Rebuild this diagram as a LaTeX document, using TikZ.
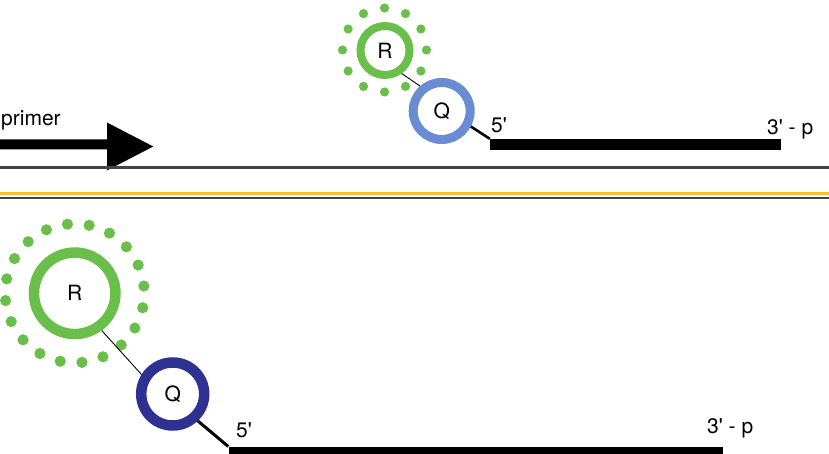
\documentclass[tikz,border=0pt]{standalone}
\usepackage{fontspec}
\newfontfamily\labelfont[Ligatures=TeXOff]{TeX Gyre Heros}
\usetikzlibrary{calc}
\definecolor{reporter}{HTML}{69BF4A}
\definecolor{quenchlight}{HTML}{6A8CD2}
\definecolor{quenchdark}{HTML}{2E3192}
\definecolor{railgrey}{HTML}{444444}
\definecolor{railyellow}{HTML}{F8C22E}
\tikzset{
  lbl/.style={font=\labelfont\fontsize{21}{25}\selectfont, inner sep=0pt},
  ring/.style={circle, draw=#1, inner sep=0pt, font=\labelfont\fontsize{21}{25}\selectfont},
  strandbox/.style={rectangle, fill=black, inner sep=0pt, draw=none},
  tether/.style={draw=black, line width=0.9pt},
  stalk/.style={draw=black, line width=2.6pt},
  rail/.style={line width=2.6pt},
}
\begin{document}
\begin{tikzpicture}[x=1pt, y=-1pt]
\useasboundingbox (0,0) rectangle (829,454);
\clip (0,0) rectangle (829,454);

% ---------- upper panel: intact probe ----------
% reporter with its emission halo
\node[ring=reporter, line width=8pt, minimum size=49pt] (R1) at (385,50.5) {R};
\foreach \a in {0,30,...,330}
  \fill[reporter] ($(384.5,50)+(\a:42pt)$) circle (4.6pt);
% quencher
\node[ring=quenchlight, line width=9pt, minimum size=57pt] (Q1) at (441.7,111) {Q};
% probe strand
\node[strandbox, minimum width=290.5pt, minimum height=11pt] (S1) at (635.25,144.5) {};
\draw[tether] (R1.-54) -- (Q1.131);
\draw[stalk] (Q1.-28) -- (S1.north west);
\node[lbl, anchor=base west] (five1) at (491,132.5) {5'};
\node[lbl, anchor=base west] (three1) at (767,134.5) {3' - p};

% primer arrow
\fill[black] (0,139.5) -- (107,139.5) -- (107,122.5) -- (153.3,146.5)
  -- (107,170.5) -- (107,149.5) -- (0,149.5) -- cycle;
\node[lbl, anchor=base west] (primer) at (1,125.5) {primer};

% template rails
\coordinate (railAw) at (0,167.3);
\coordinate (railAe) at (829,167.3);
\coordinate (railBw) at (0,193.7);
\coordinate (railBe) at (829,193.7);
\coordinate (railCw) at (0,198);
\coordinate (railCe) at (829,198);
\draw[rail, railgrey] (railAw) -- (railAe);
\draw[rail, railyellow] (railBw) -- (railBe);
\draw[rail, railgrey] (railCw) -- (railCe);

% ---------- lower panel: close-up of the probe ----------
\node[ring=reporter, line width=10.5pt, minimum size=81.5pt] (R2) at (74.7,293.3) {R};
\foreach \k in {0,...,19}
  \fill[reporter] ($(74.7,293.3)+({6+18*\k}:69.5pt)$) circle (5.6pt);
\node[ring=quenchdark, line width=10.5pt, minimum size=63pt] (Q2) at (172.7,394) {Q};
\node[strandbox, minimum width=494pt, minimum height=12pt] (S2) at (475.5,452.7) {};
\draw[tether] (R2.-54) -- (Q2.148);
\draw[stalk, line width=3pt] (Q2.-47) -- (S2.north west);
\node[lbl, anchor=base west] (five2) at (236,437.5) {5'};
\node[lbl, anchor=base west] (three2) at (707,433.5) {3' - p};
\end{tikzpicture}
\end{document}
